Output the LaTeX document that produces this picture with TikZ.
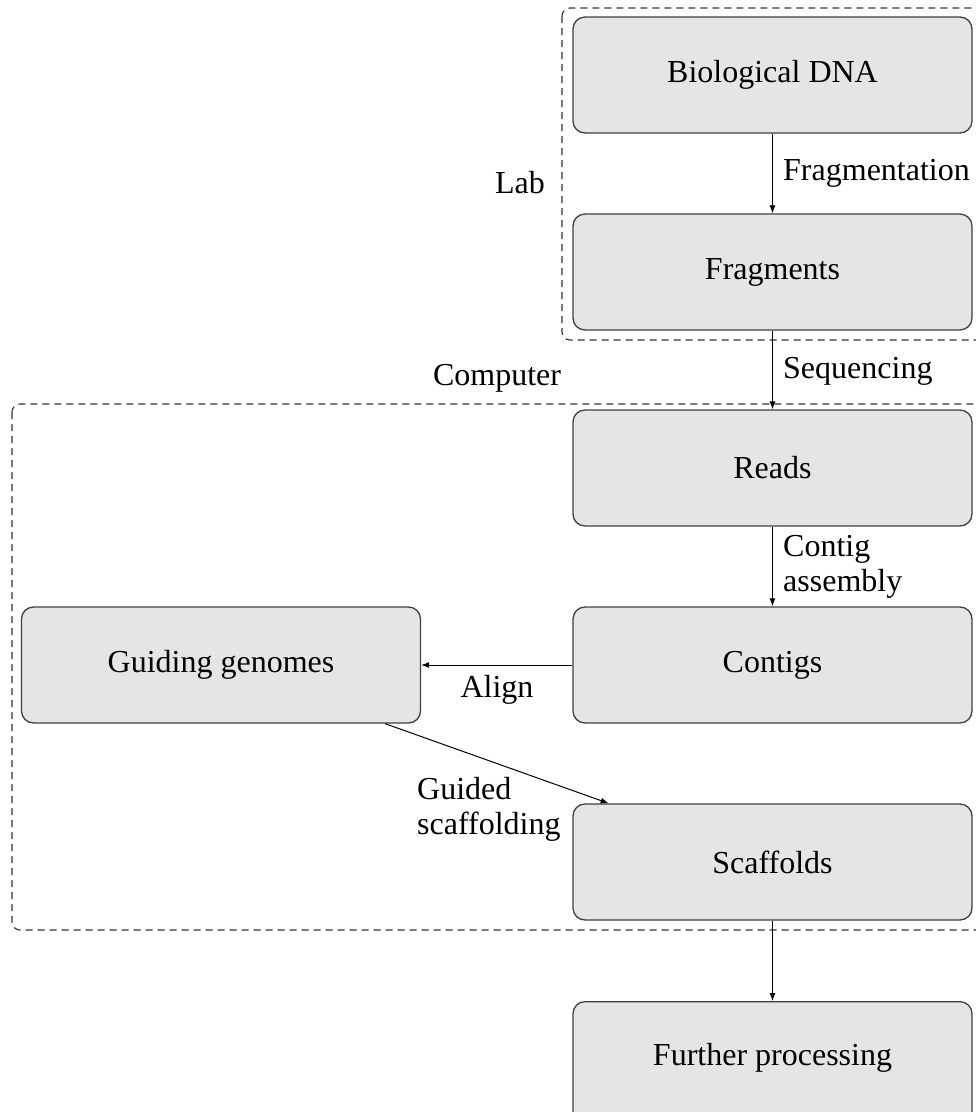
\documentclass[tikz,border=0pt]{standalone}
\usepackage{fontspec}
\setmainfont{Liberation Serif}
\usetikzlibrary{arrows.meta}
\begin{document}
\begin{tikzpicture}[x=1pt,y=-1pt,
  every node/.style={font=\fontsize{32}{35}\selectfont},
  box/.style={draw=black!75, line width=1.3pt, fill=black!10, rounded corners=12pt,
    minimum width=399pt, minimum height=116pt, inner sep=0pt},
  grp/.style={draw=black!80, line width=1.1pt, dash pattern=on 7pt off 5pt, rounded corners=8pt},
  conn/.style={line width=1pt, -{Latex[length=8pt,width=6pt]}},
  lbl/.style={inner sep=0pt, align=left}]
\useasboundingbox (0,0) rectangle (976,1112);
% groups
\draw[grp] (562,8) rectangle (990,340);
\draw[grp] (12,404) rectangle (990,930);
\node[lbl] (lab) at (520,183) {Lab};
\node[lbl] (computer) at (497,378) {Computer};
% boxes
\node[box] (dna) at (772.5,75) {Biological DNA};
\node[box] (frag) at (772.5,272) {Fragments};
\node[box] (reads) at (772.5,468) {Reads};
\node[box] (contigs) at (772.5,665) {Contigs};
\node[box] (guide) at (221,665) {Guiding genomes};
\node[box] (scaf) at (772.5,862) {Scaffolds};
\node[box, minimum height=130pt, anchor=north] (further) at (772.5,1001) {};
\node[lbl] (furthertext) at (772.5,1058) {Further processing};
% connectors
\draw[conn] (dna) -- (frag);
\draw[conn] (frag) -- (reads);
\draw[conn] (reads) -- (contigs);
\draw[conn] (contigs) -- (guide);
\draw[conn] (guide) -- (scaf);
\draw[conn] (scaf) -- (further);
% labels
\node[lbl, anchor=west] (lfrag) at (783,173) {Fragmentation};
\node[lbl, anchor=west] (lseq) at (783,371) {Sequencing};
\node[lbl, anchor=west] (lcont) at (783,567) {Contig\\assembly};
\node[lbl] (lalign) at (497,690) {Align};
\node[lbl, anchor=west] (lguid) at (417,809) {Guided\\scaffolding};
\end{tikzpicture}
\end{document}
